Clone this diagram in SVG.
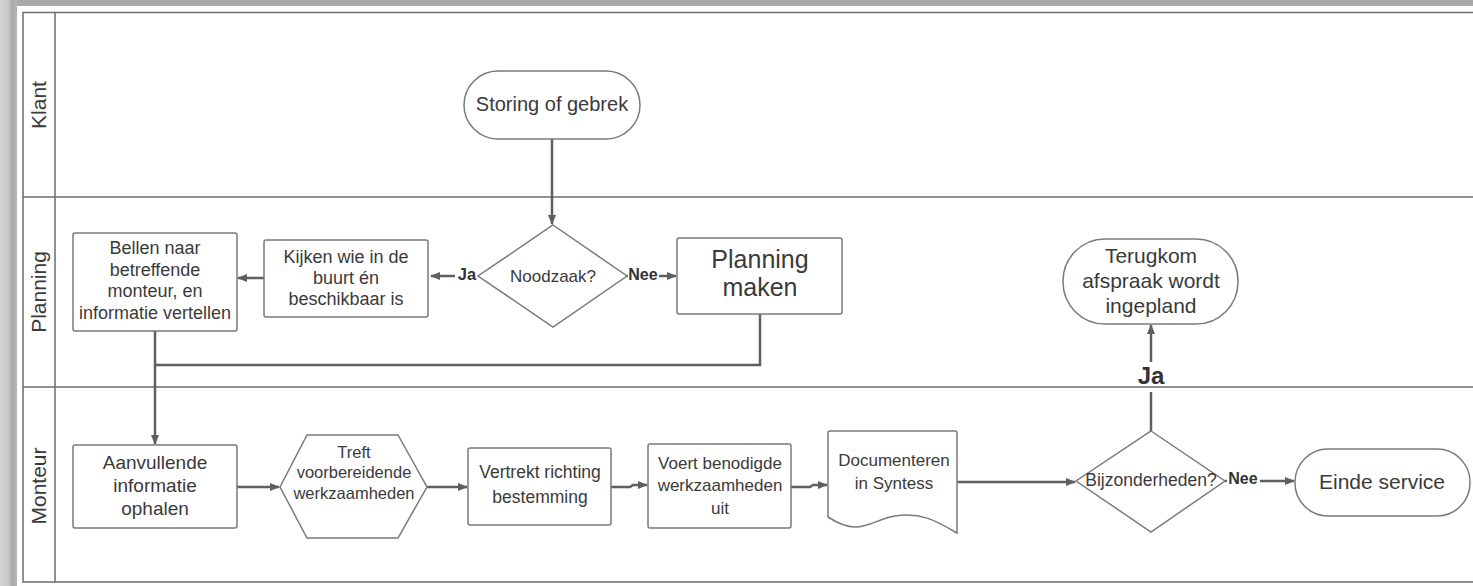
<svg xmlns="http://www.w3.org/2000/svg" width="1473" height="586" viewBox="0 0 1473 586">
<defs>
<linearGradient id="lg" x1="0" y1="0" x2="1" y2="0">
<stop offset="0" stop-color="#d4d4d4"/>
<stop offset="0.5" stop-color="#c8c8c8"/>
<stop offset="0.7" stop-color="#a9a9a9"/>
<stop offset="1" stop-color="#b5b5b5"/>
</linearGradient>
<marker id="ah" markerWidth="10" markerHeight="8" refX="9" refY="4" orient="auto" markerUnits="userSpaceOnUse">
<path d="M0,0 L10,4 L0,8 Z" fill="#5f5f5f"/>
</marker>
</defs>
<style>
.lane{fill:none;stroke:#6b6b6b;stroke-width:1.5}
.node{fill:#fff;stroke:#7a7a7a;stroke-width:1.5}
.con{fill:none;stroke:#5f5f5f;stroke-width:2.5}
.t{font-family:"Liberation Sans",Arial,sans-serif;fill:#3a3a3a;text-anchor:middle;dominant-baseline:central}
.b{font-weight:bold;fill:#333}
</style>
<rect x="0" y="0" width="1473" height="586" fill="#fff"/>
<rect x="0" y="0" width="1473" height="6" fill="#a9a9a9"/>
<rect x="0" y="0" width="17" height="586" fill="url(#lg)"/>

<g id="lanes">
<rect class="lane" x="23" y="12.5" width="1460" height="569.5"/>
<line class="lane" x1="55" y1="12.5" x2="55" y2="582"/>
<line class="lane" x1="23" y1="197" x2="1480" y2="197"/>
<line class="lane" x1="23" y1="387" x2="1480" y2="387"/>
<text class="t" font-size="21" transform="translate(38,105) rotate(-90)">Klant</text>
<text class="t" font-size="21" transform="translate(38,292) rotate(-90)">Planning</text>
<text class="t" font-size="21" transform="translate(38,486) rotate(-90)">Monteur</text>
</g>

<g id="connectors">
<line class="con" x1="552" y1="139" x2="552" y2="224" marker-end="url(#ah)"/>
<line class="con" x1="478" y1="276" x2="431" y2="276" marker-end="url(#ah)"/>
<line class="con" x1="264" y1="278" x2="238" y2="278" marker-end="url(#ah)"/>
<line class="con" x1="627" y1="276" x2="676" y2="276" marker-end="url(#ah)"/>
<polyline class="con" points="155,331 155,444" marker-end="url(#ah)"/>
<polyline class="con" points="760,314 760,365 155,365"/>
<line class="con" x1="237" y1="487" x2="279" y2="487" marker-end="url(#ah)"/>
<line class="con" x1="427" y1="487" x2="467" y2="487" marker-end="url(#ah)"/>
<polyline class="con" points="611,487 630,487 633,485 647,485" marker-end="url(#ah)"/>
<polyline class="con" points="791,487 810,487 813,485 827,485" marker-end="url(#ah)"/>
<line class="con" x1="957" y1="482" x2="1075" y2="482" marker-end="url(#ah)"/>
<line class="con" x1="1225" y1="481" x2="1294" y2="481" marker-end="url(#ah)"/>
<line class="con" x1="1151" y1="431" x2="1151" y2="392"/>
<line class="con" x1="1151" y1="362" x2="1151" y2="325" marker-end="url(#ah)"/>
<rect x="455" y="266" width="23" height="20" fill="#fff"/>
<rect x="628" y="266" width="31" height="20" fill="#fff"/>
<rect x="1227" y="470" width="33" height="18" fill="#fff"/>
<text class="t b" font-size="16.5" x="467" y="274">Ja</text>
<text class="t b" font-size="16" x="643" y="274">Nee</text>
<text class="t b" font-size="16" x="1243" y="478">Nee</text>
<text class="t b" font-size="24" x="1151" y="375">Ja</text>
</g>

<g id="n-storing">
<rect class="node" x="464" y="71" width="176" height="68" rx="34"/>
<text class="t" font-size="20" x="552" y="104">Storing of gebrek</text>
</g>

<g id="n-noodzaak">
<polygon class="node" points="553,225 627,276 553,327 478,276"/>
<text class="t" font-size="17" x="553" y="276">Noodzaak?</text>
</g>

<g id="n-kijken">
<rect class="node" x="264" y="240" width="164" height="77" rx="2"/>
<text class="t" font-size="18" x="346" y="257">Kijken wie in de</text>
<text class="t" font-size="18" x="346" y="278">buurt én</text>
<text class="t" font-size="18" x="346" y="299">beschikbaar is</text>
</g>

<g id="n-bellen">
<rect class="node" x="73" y="233" width="164" height="98" rx="2"/>
<text class="t" font-size="18" x="155" y="248">Bellen naar</text>
<text class="t" font-size="18" x="155" y="270">betreffende</text>
<text class="t" font-size="18" x="155" y="291">monteur, en</text>
<text class="t" font-size="18" x="155" y="313">informatie vertellen</text>
</g>

<g id="n-planning">
<rect class="node" x="677" y="238" width="165" height="76" rx="2"/>
<text class="t" font-size="25" x="760" y="259">Planning</text>
<text class="t" font-size="25" x="760" y="287">maken</text>
</g>

<g id="n-terugkom">
<rect class="node" x="1063" y="239" width="175" height="85" rx="42"/>
<text class="t" font-size="21" x="1151" y="255">Terugkom</text>
<text class="t" font-size="21" x="1151" y="280">afspraak wordt</text>
<text class="t" font-size="21" x="1151" y="305">ingepland</text>
</g>

<g id="n-aanvullende">
<rect class="node" x="73" y="445" width="164" height="83" rx="2"/>
<text class="t" font-size="19" x="155" y="462">Aanvullende</text>
<text class="t" font-size="19" x="155" y="485">informatie</text>
<text class="t" font-size="19" x="155" y="508">ophalen</text>
</g>

<g id="n-treft">
<polygon class="node" points="280,487 307,435 398,435 427,487 398,538 307,538"/>
<text class="t" font-size="16.5" x="354" y="452">Treft</text>
<text class="t" font-size="16.5" x="354" y="472">voorbereidende</text>
<text class="t" font-size="16.5" x="354" y="493">werkzaamheden</text>
</g>

<g id="n-vertrekt">
<rect class="node" x="468" y="448" width="143" height="77" rx="2"/>
<text class="t" font-size="17.5" x="540" y="472">Vertrekt richting</text>
<text class="t" font-size="17.5" x="540" y="497">bestemming</text>
</g>

<g id="n-voert">
<rect class="node" x="648" y="444" width="143" height="84" rx="2"/>
<text class="t" font-size="17" x="720" y="463">Voert benodigde</text>
<text class="t" font-size="17" x="720" y="485">werkzaamheden</text>
<text class="t" font-size="17" x="720" y="508">uit</text>
</g>

<g id="n-documenteren">
<path class="node" d="M828,433 Q828,431 830,431 L955,431 Q957,431 957,433 L957,533 C935,520 920,512 895,516 C870,520 860,538 828,517 Z"/>
<text class="t" font-size="17" x="894" y="460">Documenteren</text>
<text class="t" font-size="17" x="894" y="483">in Syntess</text>
</g>

<g id="n-bijzonderheden">
<polygon class="node" points="1151,431 1225,481 1151,532 1076,481"/>
<text class="t" font-size="17.5" x="1151" y="480">Bijzonderheden?</text>
</g>

<g id="n-einde">
<rect class="node" x="1295" y="449" width="175" height="67" rx="33"/>
<text class="t" font-size="21" x="1382" y="481">Einde service</text>
</g>
</svg>
